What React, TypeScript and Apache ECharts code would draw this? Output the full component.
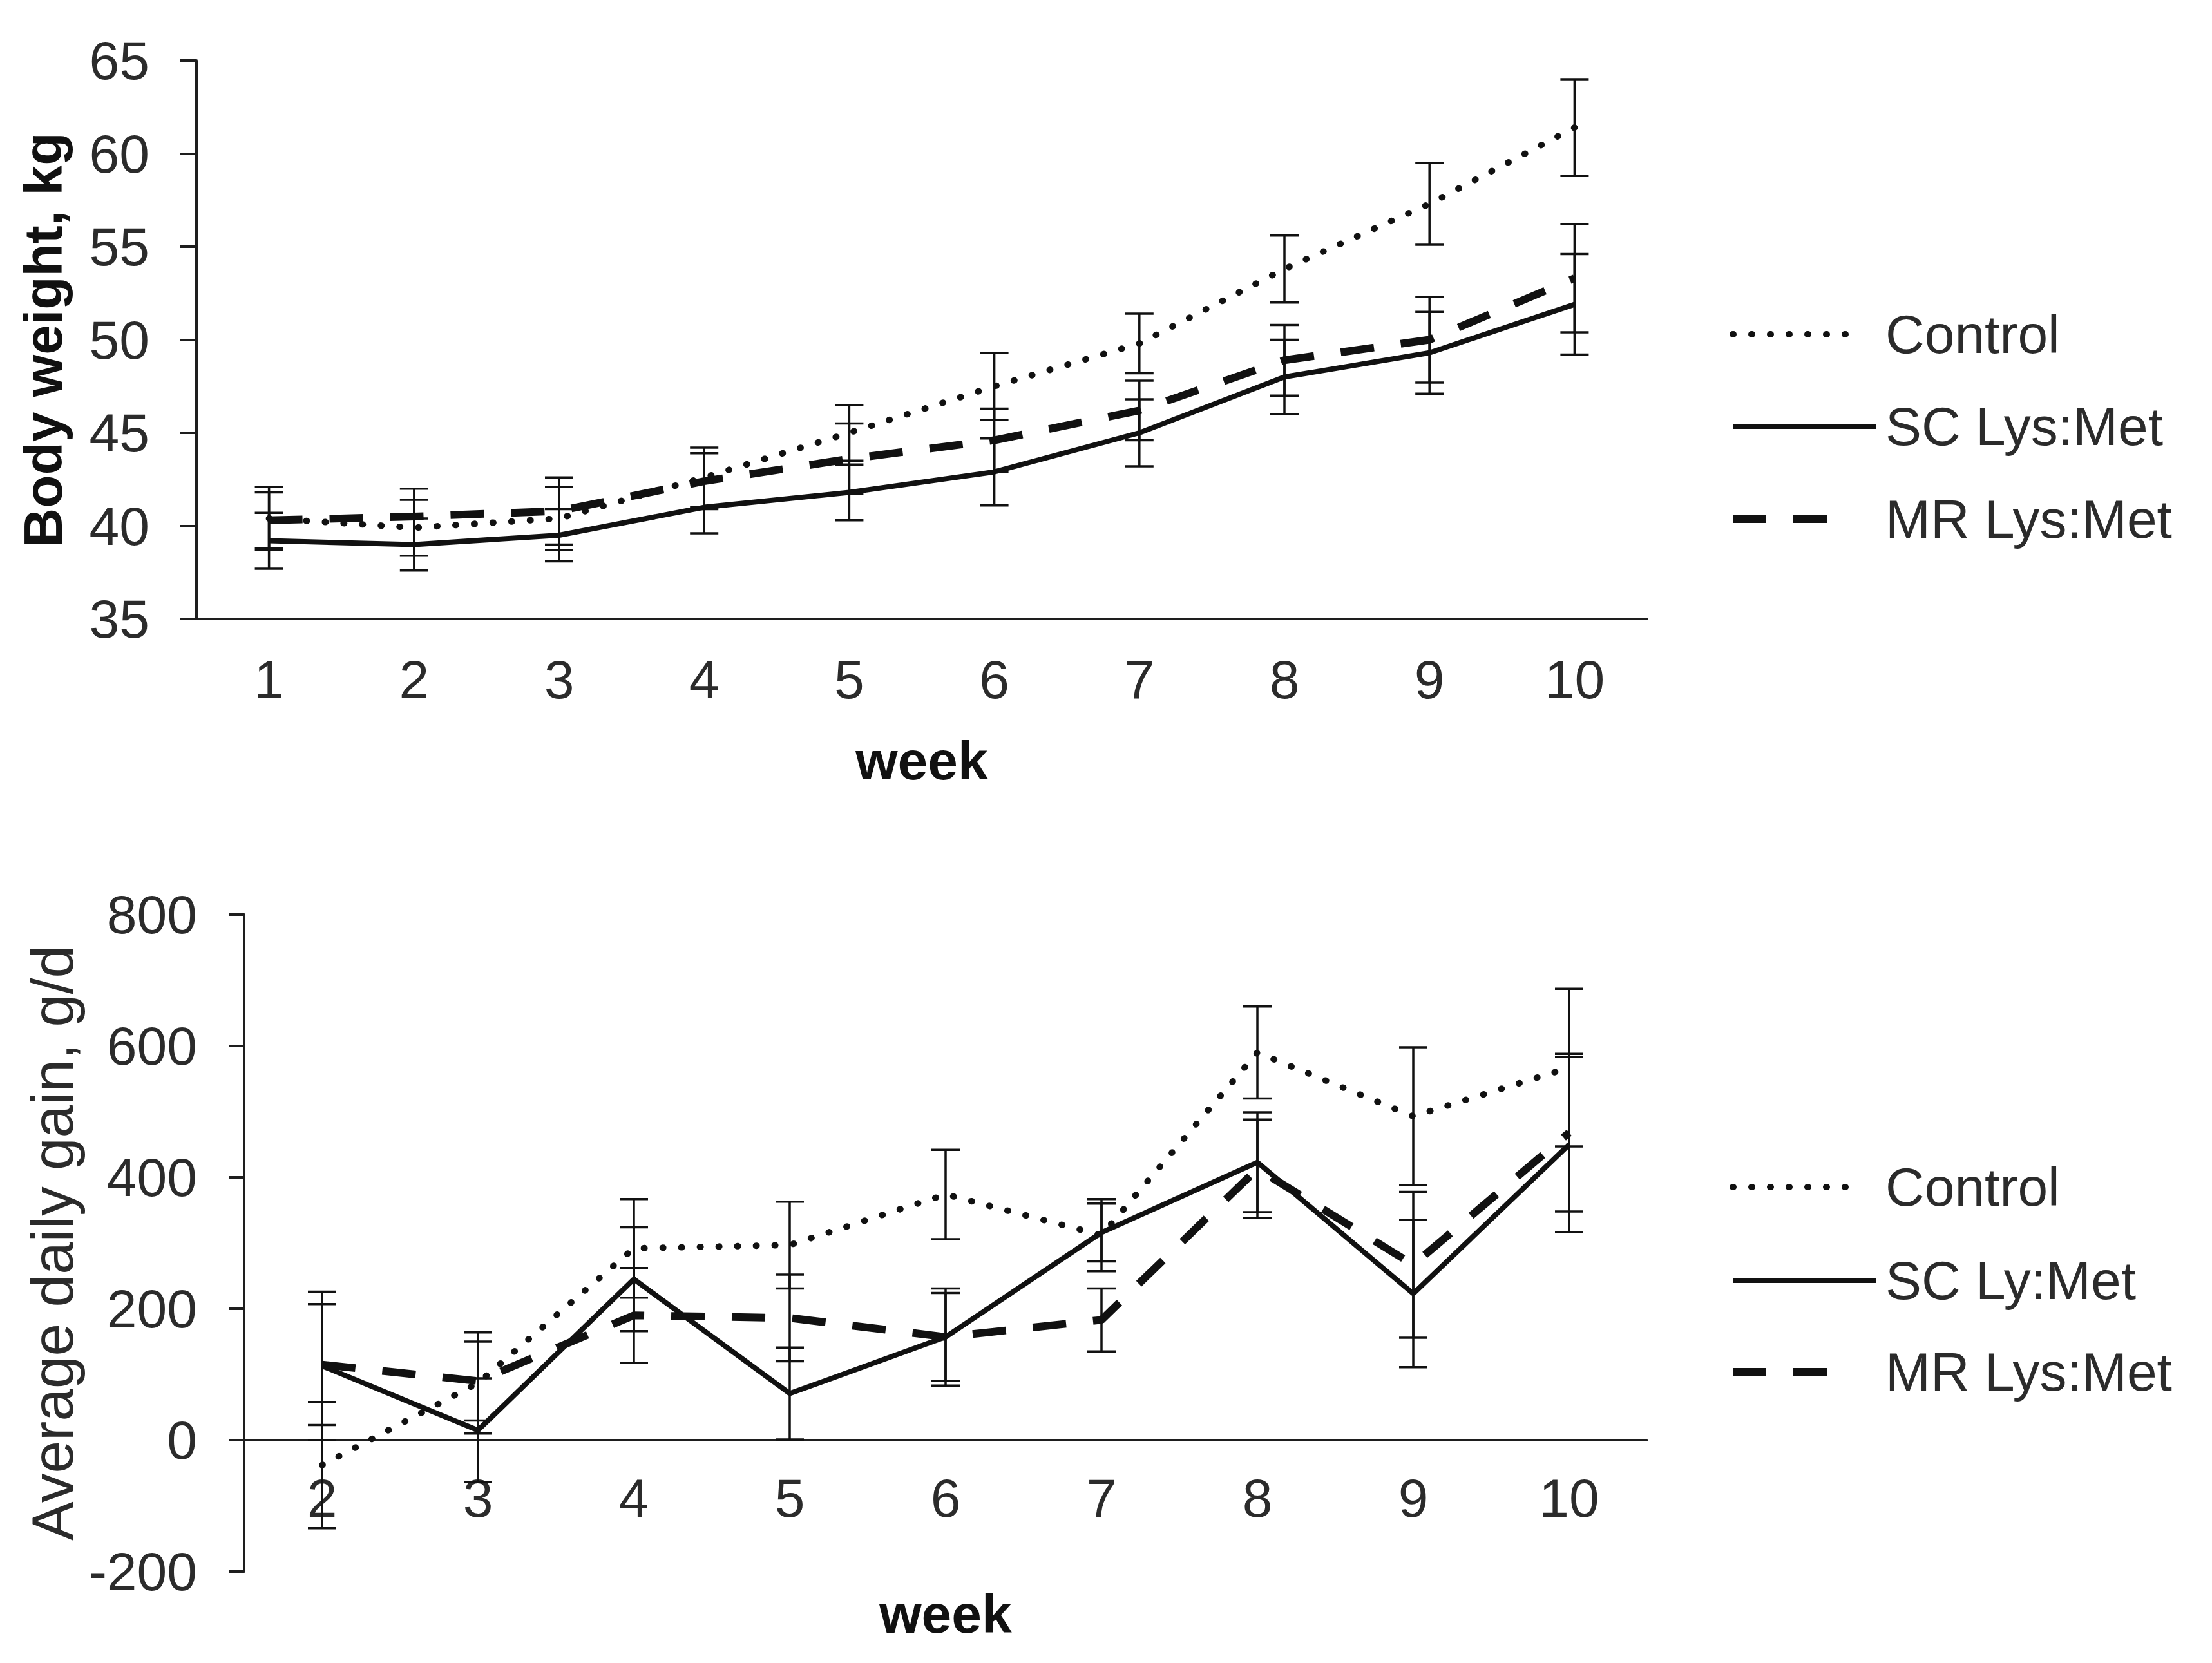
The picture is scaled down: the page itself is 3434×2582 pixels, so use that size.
import React, { useRef, useEffect } from 'react';
import * as echarts from 'echarts';

// body weight, weeks 1-10
const BW_WEEKS = ['1', '2', '3', '4', '5', '6', '7', '8', '9', '10'];
const BW_CONTROL = [40.4, 39.9, 40.4, 42.6, 45.0, 47.5, 49.8, 53.8, 57.3, 61.4];
const BW_CONTROL_SE = [1.7, 1.5, 1.7, 1.6, 1.5, 1.8, 1.6, 1.8, 2.2, 2.6];
const BW_SC = [39.2, 39.0, 39.5, 41.0, 41.8, 42.9, 45.0, 48.0, 49.3, 51.9];
const BW_SC_SE = [1.5, 1.4, 1.4, 1.4, 1.5, 1.8, 1.8, 2.0, 2.2, 2.7];
const BW_MR = [40.3, 40.5, 40.8, 42.4, 43.6, 44.6, 46.2, 48.9, 50.0, 53.3];
const BW_MR_SE = [1.5, 1.5, 1.8, 1.5, 1.9, 1.7, 1.6, 1.9, 2.3, 2.9];

// average daily gain, weeks 2-10
const ADG_WEEKS = ['2', '3', '4', '5', '6', '7', '8', '9', '10'];
const ADG_CONTROL = [-38, 87, 292, 297, 374, 312, 590, 493, 567];
const ADG_CONTROL_SE = [96, 77, 75, 66, 68, 55, 70, 105, 120];
const ADG_SC = [113, 15, 245, 71, 157, 316, 423, 223, 450];
const ADG_SC_SE = [113, 79, 79, 70, 67, 44, 76, 112, 133];
const ADG_MR = [115, 90, 190, 186, 157, 183, 413, 267, 468];
const ADG_MR_SE = [92, 60, 72, 66, 74, 48, 75, 111, 120];

const ADG_MIN = -200;
const ADG_MAX = 800;

const FONT = '"Liberation Sans", Arial, Helvetica, sans-serif';
const TEXT = '#2b2b2b';
const AXIS = '#1e1e1e';

const STYLES = {
  control: { color: '#111', width: 10, type: [1, 28] as number[], cap: 'round' as const },
  sc: { color: '#111', width: 8, type: 'solid' as const, cap: 'butt' as const },
  mr: { color: '#111', width: 12, type: [52, 42] as number[], cap: 'butt' as const },
};

const lineSeries = (name: string, data: number[], idx: number, st: any) => ({
  name,
  type: 'line',
  xAxisIndex: idx,
  yAxisIndex: idx,
  data,
  symbol: 'none',
  showSymbol: false,
  lineStyle: { color: st.color, width: st.width, type: st.type, cap: st.cap },
  z: 3,
});

const errorSeries = (mean: number[], se: number[], idx: number) => ({
  type: 'custom',
  xAxisIndex: idx,
  yAxisIndex: idx,
  silent: true,
  encode: { x: 0, y: [1, 2] },
  data: mean.map((m, i) => [i, m - se[i], m + se[i]]),
  renderItem: (_p: any, api: any) => {
    const i = api.value(0);
    const lo = api.coord([i, api.value(1)]);
    const hi = api.coord([i, api.value(2)]);
    const half = 22;
    const style = { stroke: '#111', lineWidth: 3.5 };
    return {
      type: 'group',
      children: [
        { type: 'line', shape: { x1: lo[0], y1: lo[1], x2: hi[0], y2: hi[1] }, style },
        { type: 'line', shape: { x1: lo[0] - half, y1: lo[1], x2: lo[0] + half, y2: lo[1] }, style },
        { type: 'line', shape: { x1: hi[0] - half, y1: hi[1], x2: hi[0] + half, y2: hi[1] }, style },
      ],
    };
  },
  z: 2,
});

const legendGroup = (labels: string[], rows: number[]) => {
  const keys = ['control', 'sc', 'mr'] as const;
  const children: any[] = [];
  keys.forEach((k, i) => {
    const st = STYLES[k];
    const y = rows[i];
    const x2 = k === 'control' ? 2882 : k === 'sc' ? 2912 : 2848;
    children.push({
      type: 'line',
      shape: { x1: 2690, y1: y, x2, y2: y },
      style: {
        stroke: st.color,
        lineWidth: st.width,
        lineDash: st.type === 'solid' ? null : st.type,
        lineCap: st.cap,
      },
    });
    children.push({
      type: 'text',
      x: 2927,
      y,
      style: { text: labels[i], fill: TEXT, fontSize: 84, fontFamily: FONT, verticalAlign: 'middle', align: 'left' },
    });
  });
  return { type: 'group', children };
};

const axisCommon = {
  axisLine: { lineStyle: { color: AXIS, width: 4 } },
  axisTick: { lineStyle: { color: AXIS, width: 4 } },
  splitLine: { show: false },
};

const GRID2 = { left: 379, top: 1420, width: 2178, height: 1020 };
// the lower x axis sits on the zero line: shift it up from the grid bottom
const ZERO_OFFSET = -GRID2.height * (0 - ADG_MIN) / (ADG_MAX - ADG_MIN);

const option = {
  animation: false,
  backgroundColor: '#fff',
  grid: [
    { left: 305, top: 94, width: 2252, height: 867, outerBoundsMode: 'none', containLabel: false },
    { ...GRID2, outerBoundsMode: 'none', containLabel: false },
  ],
  xAxis: [
    {
      ...axisCommon,
      type: 'category',
      gridIndex: 0,
      data: BW_WEEKS,
      axisTick: { ...axisCommon.axisTick, length: 25 },
      axisLabel: { fontSize: 84, fontFamily: FONT, color: TEXT, margin: 52 },
      name: 'week',
      nameLocation: 'middle',
      nameGap: 178,
      nameTextStyle: { fontSize: 84, fontFamily: FONT, fontWeight: 'bold', color: '#111' },
    },
    {
      ...axisCommon,
      type: 'category',
      gridIndex: 1,
      data: ADG_WEEKS,
      position: 'bottom',
      offset: ZERO_OFFSET,
      axisLine: { ...axisCommon.axisLine, onZero: false },
      axisTick: { ...axisCommon.axisTick, length: 23 },
      axisLabel: { fontSize: 84, fontFamily: FONT, color: TEXT, margin: 48 },
      name: 'week',
      nameLocation: 'middle',
      nameGap: 228,
      nameTextStyle: { fontSize: 84, fontFamily: FONT, fontWeight: 'bold', color: '#111' },
    },
  ],
  yAxis: [
    {
      ...axisCommon,
      type: 'value',
      gridIndex: 0,
      min: 35,
      max: 65,
      interval: 5,
      axisLine: { ...axisCommon.axisLine, show: true },
      axisTick: { ...axisCommon.axisTick, show: true, length: 26 },
      axisLabel: { fontSize: 84, fontFamily: FONT, color: TEXT, margin: 73 },
      name: 'Body weight, kg',
      nameLocation: 'middle',
      nameGap: 196,
      nameTextStyle: { fontSize: 84, fontFamily: FONT, fontWeight: 'bold', color: '#111' },
    },
    {
      ...axisCommon,
      type: 'value',
      gridIndex: 1,
      min: ADG_MIN,
      max: ADG_MAX,
      interval: 200,
      axisLine: { ...axisCommon.axisLine, show: true, onZero: false },
      axisTick: { ...axisCommon.axisTick, show: true, length: 23 },
      axisLabel: { fontSize: 84, fontFamily: FONT, color: TEXT, margin: 73 },
      name: 'Average daily gain, g/d',
      nameLocation: 'middle',
      nameGap: 236,
      nameTextStyle: { fontSize: 91, fontFamily: FONT, color: TEXT },
    },
  ],
  series: [
    errorSeries(BW_CONTROL, BW_CONTROL_SE, 0),
    errorSeries(BW_SC, BW_SC_SE, 0),
    errorSeries(BW_MR, BW_MR_SE, 0),
    lineSeries('Control', BW_CONTROL, 0, STYLES.control),
    lineSeries('SC Lys:Met', BW_SC, 0, STYLES.sc),
    lineSeries('MR Lys:Met', BW_MR, 0, STYLES.mr),
    errorSeries(ADG_CONTROL, ADG_CONTROL_SE, 1),
    errorSeries(ADG_SC, ADG_SC_SE, 1),
    errorSeries(ADG_MR, ADG_MR_SE, 1),
    lineSeries('Control', ADG_CONTROL, 1, STYLES.control),
    lineSeries('SC Ly:Met', ADG_SC, 1, STYLES.sc),
    lineSeries('MR Lys:Met', ADG_MR, 1, STYLES.mr),
  ],
  graphic: [
    legendGroup(['Control', 'SC Lys:Met', 'MR Lys:Met'], [519, 662, 806]),
    legendGroup(['Control', 'SC Ly:Met', 'MR Lys:Met'], [1843, 1988, 2130]),
  ],
};

export default function App() {
  const chartRef = useRef<HTMLDivElement>(null);

  useEffect(() => {
    if (!chartRef.current) return;
    const chart = echarts.init(chartRef.current, null, { renderer: 'svg' });
    chart.setOption(option as any);
    return () => { chart.dispose(); };
  }, []);

  return (
    <div
      ref={chartRef}
      style={{ position: 'absolute', left: 0, top: 0, width: 3434, height: 2582, background: '#fff' }}
    />
  );
}
